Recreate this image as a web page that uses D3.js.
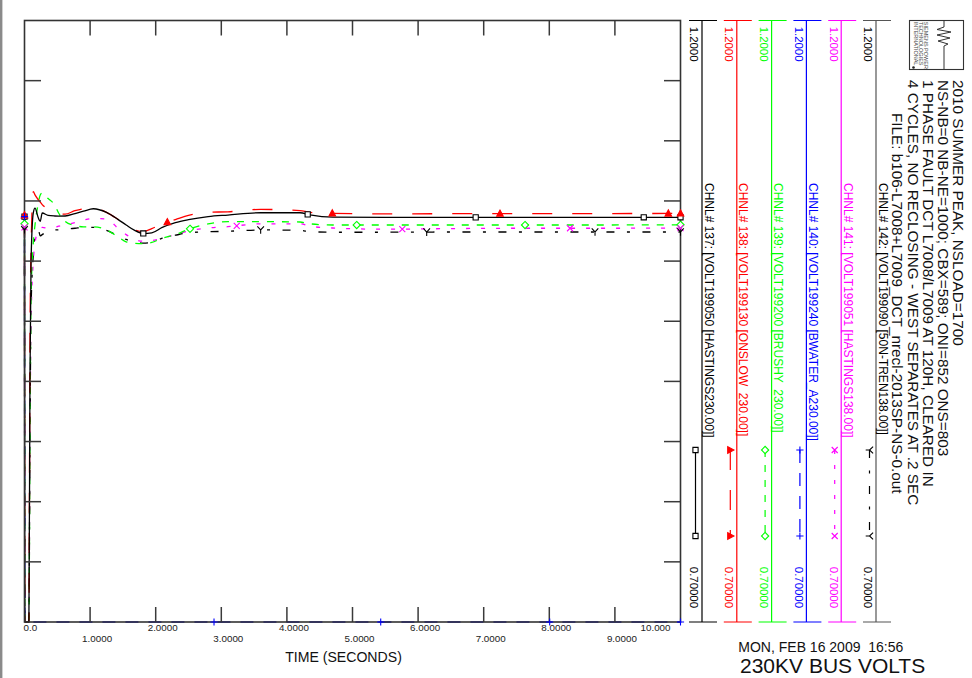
<!DOCTYPE html>
<html><head><meta charset="utf-8">
<script src="https://cdn.jsdelivr.net/npm/d3@7"></script>
<style>
body{margin:0;background:#fff}
svg{display:block;font-family:"Liberation Sans",Arial,Helvetica,sans-serif}
text{white-space:pre}
</style>
</head><body>
<svg id="c" width="972" height="678"></svg>
<script>
// ---------------- DATA ----------------
const times = [0, 0.005, 0.067, 0.083, 0.1, 0.134, 0.16, 0.21, 0.24, 0.27, 0.36, 0.46, 0.52, 0.62, 0.77, 0.9, 1.05, 1.25, 1.43, 1.55, 1.68, 1.81, 1.94, 2.1, 2.3, 2.5, 2.8, 3.1, 3.6, 4.2, 4.35, 4.7, 5.5, 6.5, 7.5, 8.5, 10.0];

const volt137 = [1.037, 0.45, 0.50, 0.90, 1.000, 1.040, 1.044, 1.036, 1.033, 1.040, 1.038, 1.0375, 1.0374, 1.0375, 1.0395, 1.0415, 1.0435, 1.0405, 1.0345, 1.030, 1.0255, 1.023, 1.0235, 1.028, 1.032, 1.0345, 1.037, 1.0383, 1.0402, 1.0402, 1.0385, 1.0366, 1.0364, 1.0363, 1.0364, 1.0364, 1.0364];
const volt138 = [1.038, 0.45, 0.52, 0.93, 1.010, 1.0577, 1.055, 1.051, 1.049, 1.047, 1.043, 1.040, 1.039, 1.039, 1.042, 1.0435, 1.044, 1.0405, 1.0345, 1.030, 1.026, 1.0245, 1.027, 1.031, 1.0345, 1.038, 1.0406, 1.041, 1.043, 1.042, 1.0405, 1.0397, 1.0392, 1.0394, 1.0394, 1.0395, 1.0396];
const volt139 = [1.031, 0.42, 0.48, 0.85, 0.970, 1.015, 1.030, 1.048, 1.055, 1.0566, 1.052, 1.0466, 1.040, 1.033, 1.0295, 1.0285, 1.0285, 1.026, 1.020, 1.016, 1.0148, 1.0145, 1.0155, 1.019, 1.022, 1.0265, 1.031, 1.0328, 1.0328, 1.0325, 1.031, 1.030, 1.030, 1.030, 1.030, 1.030, 1.0302];
const volt140 = [1.037, 0.0, 0.0, 0.0, 0.0, 0.0, 0.0, 0.0, 0.0, 0.0, 0.0, 0.0, 0.0, 0.0, 0.0, 0.0, 0.0, 0.0, 0.0, 0.0, 0.0, 0.0, 0.0, 0.0, 0.0, 0.0, 0.0, 0.0, 0.0, 0.0, 0.0, 0.0, 0.0, 0.0, 0.0, 0.0, 0.0];
const volt141 = [1.028, 0.40, 0.45, 0.85, 0.950, 1.000, 1.015, 1.025, 1.027, 1.028, 1.0273, 1.028, 1.029, 1.030, 1.032, 1.034, 1.0355, 1.035, 1.027, 1.022, 1.018, 1.0165, 1.017, 1.019, 1.022, 1.025, 1.0275, 1.0286, 1.031, 1.031, 1.029, 1.0275, 1.0265, 1.027, 1.0273, 1.0273, 1.0274];
const volt142 = [1.026, 0.40, 0.45, 0.85, 0.960, 1.005, 1.020, 1.026, 1.021, 1.022, 1.025, 1.0259, 1.026, 1.0265, 1.0273, 1.028, 1.028, 1.0255, 1.021, 1.018, 1.0161, 1.015, 1.0155, 1.019, 1.0215, 1.0236, 1.0244, 1.0248, 1.0259, 1.0255, 1.0245, 1.024, 1.024, 1.0242, 1.0242, 1.0242, 1.0242];

const channelIds = [137, 138, 139, 140, 141, 142];
const channelLabels = [
  "CHNL# 137: [VOLT199050 [HASTINGS230.00]]",
  "CHNL# 138: [VOLT199130 [ONSLOW  230.00]]",
  "CHNL# 139: [VOLT199200 [BRUSHY  230.00]]",
  "CHNL# 140: [VOLT199240 [BWATER_A230.00]]",
  "CHNL# 141: [VOLT199051 [HASTINGS138.00]]",
  "CHNL# 142: [VOLT199090 [50N-TREN138.00]]"
];
const markerTimes137 = [0, 1.811, 4.317, 6.878, 9.44, 10];
const markerTimes138 = [0, 2.177, 4.692, 7.248, 9.814, 10];
const markerTimes139 = [0, 2.523, 5.064, 7.63, 10];
const markerTimes140 = [0, 2.889, 5.43, 8.006, 10];
const markerTimes141 = [0, 3.235, 5.759, 8.316, 10];
const markerTimes142 = [0, 3.60, 6.131, 8.697, 10];

const timeTicks = [0, 1, 2, 3, 4, 5, 6, 7, 8, 9, 10];
const timeTickLabels = ["0.0", "1.0000", "2.0000", "3.0000", "4.0000", "5.0000", "6.0000", "7.0000", "8.0000", "9.0000", "10.000"];
const voltTicks = [0.7, 0.75, 0.8, 0.85, 0.9, 0.95, 1.0, 1.05, 1.1, 1.15, 1.2];
const scaleMaxLabel = "1.2000";
const scaleMinLabel = "0.70000";

const titleLines = [
  "2010 SUMMER PEAK, NSLOAD=1700",
  "NS-NB=0 NB-NE=1000; CBX=589; ONI=852 ONS=803",
  "1 PHASE FAULT DCT L7008/L7009 AT 120H, CLEARED IN",
  "4 CYCLES, NO RECLOSING - WEST SEPARATES AT .2 SEC",
  "FILE: b106-L7008+L7009_DCT_nrecl-2013SP-NS-0.out"
];
const logoLines = ["SIEMENS POWER", "TECHNOLOGIES", "INTERNATIONAL"];
const dateText = "MON, FEB 16 2009  16:56";
const plotTitle = "230KV BUS VOLTS";
const xAxisTitle = "TIME (SECONDS)";

// ---------------- STYLE TABLE ----------------
const channels = [
  {id: 137, vals: volt137, mt: markerTimes137, color: "#000000", col: "#000000", dash: null, sym: "square"},
  {id: 138, vals: volt138, mt: markerTimes138, color: "#ff0000", col: "#ff0000", dash: "20,20", sym: "triangle"},
  {id: 139, vals: volt139, mt: markerTimes139, color: "#00ff00", col: "#00ff00", dash: "7,8", sym: "diamond"},
  {id: 140, vals: volt140, mt: markerTimes140, color: "#0000ff", col: "#0000ff", dash: "13,10", sym: "plus"},
  {id: 141, vals: volt141, mt: markerTimes141, color: "#ff00ff", col: "#ff00ff", dash: "4,11", sym: "cross"},
  {id: 142, vals: volt142, mt: markerTimes142, color: "#000000", col: "#555555", dash: "8,12.5,3,12.5", sym: "y"}
];
channels.forEach((c, i) => c.label = channelLabels[i]);

const symPaths = {
  square: "M-2.6,-2.6H2.6V2.6H-2.6Z",
  triangle: "M0,-3.6L3.3,2.6L-3.3,2.6Z",
  diamond: "M0,-3.6L3.6,0L0,3.6L-3.6,0Z",
  plus: "M-3.6,0H3.6M0,-3.6V3.6",
  cross: "M-3,-3L3,3M-3,3L3,-3",
  y: "M-3.3,-3.6L0,0L3.3,-3.6M0,0V3.8"
};
function drawSym(g, sym, cx, cy, color, rot) {
  const p = g.append("path").attr("d", symPaths[sym])
    .attr("transform", `translate(${cx},${cy})` + (rot ? ` rotate(${rot})` : ""))
    .attr("stroke", color).attr("stroke-width", 1.1);
  if (sym === "triangle") p.attr("fill", color);
  else if (sym === "square" || sym === "diamond") p.attr("fill", "#fff");
  else p.attr("fill", "none");
}

// ---------------- CHART ----------------
const svg = d3.select("#c");
const W = 972, H = 678;
svg.append("rect").attr("width", W).attr("height", H).attr("fill", "#fff");
svg.append("rect").attr("x", 0).attr("y", 0).attr("width", 2.4).attr("height", H).attr("fill", "#8a8a8a");

const x = d3.scaleLinear().domain([0, 10]).range([24.5, 680.5]);
const y = d3.scaleLinear().domain([0.7, 1.2]).range([622, 20.5]).clamp(true);

// curves
const line = d3.line().x(d => x(d[0])).y(d => y(d[1])).curve(d3.curveMonotoneX);
function valAt(vals, t) {
  const i = d3.bisectRight(times, t);
  if (i <= 0) return vals[0];
  if (i >= times.length) return vals[vals.length - 1];
  const t0 = times[i - 1], t1 = times[i];
  return vals[i - 1] + (vals[i] - vals[i - 1]) * (t - t0) / (t1 - t0);
}
const curves = svg.append("g");
channels.slice().reverse().forEach(c => {
  const pts = times.map((t, i) => [t, c.vals[i]]);
  const p = curves.append("path").attr("d", line(pts)).attr("fill", "none")
    .attr("stroke", c.color).attr("stroke-width", 1.3);
  if (c.dash) p.attr("stroke-dasharray", c.dash);
});

// ticks (inward on all four sides)
const innerT = timeTicks.slice(1, -1);
const innerV = voltTicks.slice(1, -1);
const tk = svg.append("g").attr("stroke", "#3a3a3a").attr("stroke-width", 1.5).attr("fill", "none");
innerT.forEach(t => {
  tk.append("path").attr("d", `M${x(t)},${y(1.2)}V${y(1.2) + 15}`);
  tk.append("path").attr("d", `M${x(t)},${y(0.7)}V${y(0.7) - 15}`);
});
innerV.forEach(v => {
  tk.append("path").attr("d", `M${x(0)},${y(v)}H${x(0) + 16.5}`);
  tk.append("path").attr("d", `M${x(10)},${y(v)}H${x(10) - 16.5}`);
});

// frame
svg.append("rect").attr("x", x(0)).attr("y", y(1.2))
  .attr("width", x(10) - x(0)).attr("height", y(0.7) - y(1.2))
  .attr("fill", "none").attr("stroke", "#333").attr("stroke-width", 1.6);

// markers on top
channels.forEach(c => {
  c.mt.forEach(t => drawSym(svg, c.sym, x(t), y(valAt(c.vals, t)), c.color, 0));
});

// tick labels
const last = timeTicks.length - 1;
svg.append("g").selectAll("text").data(timeTicks).join("text")
  .attr("x", (t, i) => x(t) + (i === 0 ? -1 : i === last ? -10 : 7))
  .attr("y", (t, i) => i % 2 === 0 ? 630.7 : 642.3)
  .attr("text-anchor", (t, i) => i === 0 ? "start" : i === last ? "end" : "middle")
  .attr("font-size", 9.8).attr("fill", "#222")
  .text((t, i) => timeTickLabels[i]);

svg.append("text").attr("x", 343.5).attr("y", 661.7).attr("text-anchor", "middle")
  .attr("font-size", 14.1).attr("fill", "#111").text(xAxisTitle);

// ---------------- RIGHT-SIDE LEGEND ----------------
const leg = svg.append("g");
channels.forEach((c, i) => {
  const L = 702 + i * 34.8;
  leg.append("path")
    .attr("d", `M${L},${y(1.2)}V${y(0.7)}M${L - 13},${y(1.2)}H${L + 15}M${L - 13},${y(0.7)}H${L + 15}`)
    .attr("stroke", c.col).attr("stroke-width", 1.2).attr("fill", "none");
  leg.append("text").attr("transform", `translate(${L - 11.7},26.7) rotate(90)`)
    .attr("font-size", 11.4).attr("fill", c.color).text(scaleMaxLabel);
  leg.append("text").attr("transform", `translate(${L - 11.7},608) rotate(90)`)
    .attr("text-anchor", "end").attr("font-size", 11.4).attr("fill", c.color).text(scaleMinLabel);
  leg.append("text").attr("transform", `translate(${L + 2.6},183) rotate(90)`)
    .attr("font-size", 12).attr("fill", c.color).text(c.label);
  const sx = L - 6.5;
  const sp = leg.append("path").attr("d", `M${sx},450V536`).attr("stroke", c.color)
    .attr("stroke-width", 1.2).attr("fill", "none");
  if (c.dash) sp.attr("stroke-dasharray", c.dash);
  drawSym(leg, c.sym, sx, 450, c.color, 90);
  drawSym(leg, c.sym, sx, 536, c.color, 90);
});

// title block
const titleX = [952.5, 937.5, 922.5, 907.5, 891.5];
const titleY = [80, 80, 80, 80, 113];
titleLines.forEach((s, i) => {
  svg.append("text").attr("transform", `translate(${titleX[i]},${titleY[i]}) rotate(90)`)
    .attr("font-size", 15.3).attr("fill", "#111").text(s);
});

// logo
svg.append("rect").attr("x", 909.5).attr("y", 20.5).attr("width", 54).attr("height", 49)
  .attr("fill", "none").attr("stroke", "#333").attr("stroke-width", 1.1);
svg.append("path")
  .attr("d", "M944,20.5V27L937,29.5L951,32L937,35L950,38L938,41L948,44L944,46V69.5")
  .attr("fill", "none").attr("stroke", "#333").attr("stroke-width", 1);
const logoX = [924.3, 919.3, 913.8];
logoLines.forEach((s, i) => {
  svg.append("text").attr("transform", `translate(${logoX[i]},21.8) rotate(90)`)
    .attr("font-size", 5.5).attr("fill", "#444").text(s);
});
svg.append("circle").attr("cx", 913.5).attr("cy", 67.5).attr("r", 1.3).attr("fill", "#222");

// footer
svg.append("text").attr("x", 738.3).attr("y", 651.7).attr("font-size", 14).attr("fill", "#111").text(dateText);
svg.append("text").attr("x", 740).attr("y", 673.3).attr("font-size", 21).attr("fill", "#111").text(plotTitle);
</script>
</body></html>
